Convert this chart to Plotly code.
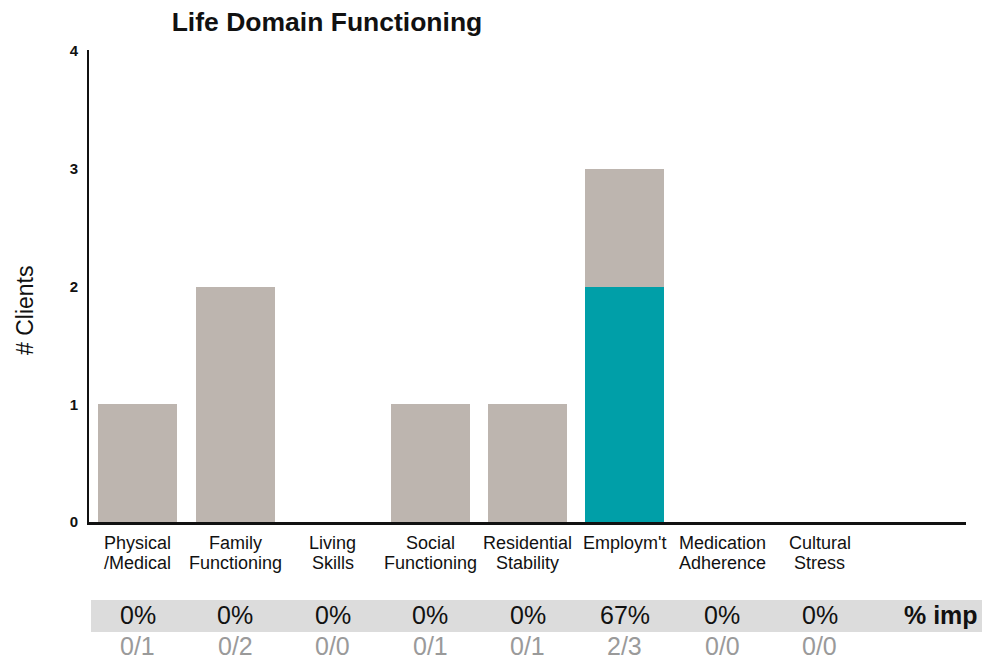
import plotly.graph_objects as go

# ---- data ----
categories = ["Physical<br>/Medical", "Family<br>Functioning", "Living<br>Skills",
              "Social<br>Functioning", "Residential<br>Stability", "Employm't",
              "Medication<br>Adherence", "Cultural<br>Stress"]
improved = [0, 0, 0, 0, 0, 2, 0, 0]
total = [1, 2, 0, 1, 1, 3, 0, 0]
pct_labels = ["0%", "0%", "0%", "0%", "0%", "67%", "0%", "0%"]
y_ticks = [0, 1, 2, 3, 4]

not_improved = [t - i for t, i in zip(total, improved)]
xs = list(range(len(categories)))

FONT = "Liberation Sans, Arial, sans-serif"
GRAY_BAR = "#bdb5af"
TEAL = "#009fa8"

W, H = 982, 662
L, R, T, B = 89, 16, 50, 140
plot_h = H - T - B
px_per_unit = 117.7

def ypaper(pix):
    return (H - B - pix) / plot_h

fig = go.Figure()
fig.add_trace(go.Bar(x=xs, y=improved, marker=dict(color=TEAL, line=dict(width=0)),
                     name="Improved", hoverinfo="skip"))
fig.add_trace(go.Bar(x=xs, y=not_improved, marker=dict(color=GRAY_BAR, line=dict(width=0)),
                     name="Not improved", hoverinfo="skip"))

annotations = []
# category labels (two lines each)
for x, lab in zip(xs, categories):
    parts = lab.split("<br>")
    for k, p in enumerate(parts):
        annotations.append(dict(x=x, y=ypaper(543 + 19.5 * k), xref="x", yref="paper",
                                text=p, showarrow=False, xanchor="center", yanchor="middle",
                                font=dict(family=FONT, size=18, color="#111111")))
# percent row
for x, p in zip(xs, pct_labels):
    annotations.append(dict(x=x, y=ypaper(615), xref="x", yref="paper", text=p,
                            showarrow=False, xanchor="center", yanchor="middle",
                            font=dict(family=FONT, size=25, color="#111111")))
annotations.append(dict(x=8.5, xshift=14, y=ypaper(615), xref="x", yref="paper",
                        text="<b>% imp</b>", showarrow=False, xanchor="right", yanchor="middle",
                        font=dict(family=FONT, size=25, color="#111111")))
# fraction row
for x, i, t in zip(xs, improved, total):
    annotations.append(dict(x=x, y=ypaper(646), xref="x", yref="paper", text=f"{i}/{t}",
                            showarrow=False, xanchor="center", yanchor="middle",
                            font=dict(family=FONT, size=25, color="#9a9a9a")))
# y-axis title
annotations.append(dict(x=(25 - L) / (W - L - R), y=ypaper(311), xref="paper", yref="paper",
                        text="# Clients", textangle=-90, showarrow=False,
                        xanchor="center", yanchor="middle",
                        font=dict(family=FONT, size=23, color="#111111")))

shapes = [dict(type="rect", xref="paper", yref="paper",
               x0=(91 - L) / (W - L - R), x1=(W - L) / (W - L - R),
               y0=ypaper(632), y1=ypaper(600),
               fillcolor="#dcdcdc", line=dict(width=0), layer="below")]

fig.update_layout(
    width=W, height=H,
    margin=dict(l=L, r=R, t=T, b=B, pad=0),
    barmode="stack", bargap=0.19,
    showlegend=False,
    plot_bgcolor="white", paper_bgcolor="white",
    font=dict(family=FONT, color="#111111"),
    title=dict(text="<b>Life Domain Functioning</b>", xref="container", yref="container",
               x=327 / W, y=1 - 22 / H, xanchor="center", yanchor="middle",
               font=dict(family=FONT, size=26.5, color="#111111")),
    xaxis=dict(range=[-0.5, 8.5], showticklabels=False, ticks="", showgrid=False,
               zeroline=False, showline=True, linecolor="#111111", linewidth=2.5),
    yaxis=dict(range=[0, plot_h / px_per_unit], tickvals=y_ticks, ticks="",
               showgrid=False, zeroline=False, showline=True, linecolor="#111111",
               linewidth=2, ticklabelstandoff=6,
               tickfont=dict(family=FONT, size=15, color="#111111", weight="bold")),
    annotations=annotations,
    shapes=shapes,
)

fig.write_html("out.html", config={"displayModeBar": False},
               post_script="document.body.style.margin='0';document.body.style.overflow='hidden';")
